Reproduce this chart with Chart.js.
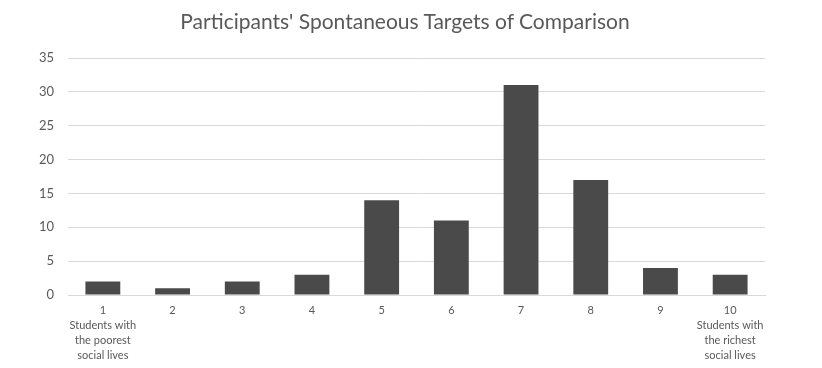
<!DOCTYPE html>
<html>
<head>
<meta charset="utf-8">
<script src="https://cdn.jsdelivr.net/npm/chart.js@4"></script>
<style>
  html, body { margin: 0; padding: 0; background: #fff; }
  #wrap { width: 822px; height: 368px; position: relative; }
  #title {
    position: absolute; left: -6px; top: 8px; width: 822px;
    text-align: center; line-height: 28px;
    font: 21px Lato, "Open Sans", sans-serif; color: #595959;
  }
</style>
</head>
<body>
<div id="wrap">
  <div id="title">Participants' Spontaneous Targets of Comparison</div>
  <canvas id="chart"></canvas>
</div>
<script>
// data
const categories = [
  ['1', 'Students with', 'the poorest', 'social lives'],
  '2', '3', '4', '5', '6', '7', '8', '9',
  ['10', 'Students with', 'the richest', 'social lives']
]
const counts = [2, 1, 2, 3, 14, 11, 31, 17, 4, 3]
const yTicks = [0, 5, 10, 15, 20, 25, 30, 35]

const textColor = '#595959'
const fontFamily = 'Lato, "Open Sans", sans-serif'

new Chart(document.getElementById('chart'), {
  type: 'bar',
  data: {
    labels: categories,
    datasets: [{
      label: 'Participants',
      data: counts,
      backgroundColor: '#4a4a4a',
      barPercentage: 0.5,
      categoryPercentage: 1.0
    }]
  },
  options: {
    responsive: true,
    maintainAspectRatio: false,
    animation: false,
    layout: { padding: { top: 58, right: 57, bottom: 0, left: 0 } },
    plugins: {
      legend: { display: false },
      tooltip: { enabled: false },
      title: { display: false }
    },
    scales: {
      x: {
        grid: { display: false, drawTicks: false },
        border: { display: true, color: '#d9d9d9', width: 1 },
        ticks: {
          color: textColor,
          font: { family: fontFamily, size: 11, lineHeight: 1.35 },
          padding: 8,
          maxRotation: 0,
          autoSkip: false
        },
        afterFit: scale => { scale.height = 73 }
      },
      y: {
        min: 0,
        max: 35,
        afterBuildTicks: scale => { scale.ticks = yTicks.map(v => ({ value: v })) },
        grid: { color: '#d9d9d9', drawTicks: false },
        border: { display: false },
        ticks: {
          color: textColor,
          font: { family: fontFamily, size: 13 },
          padding: 14
        },
        afterFit: scale => { scale.width = 68 }
      }
    }
  }
})
</script>
</body>
</html>
